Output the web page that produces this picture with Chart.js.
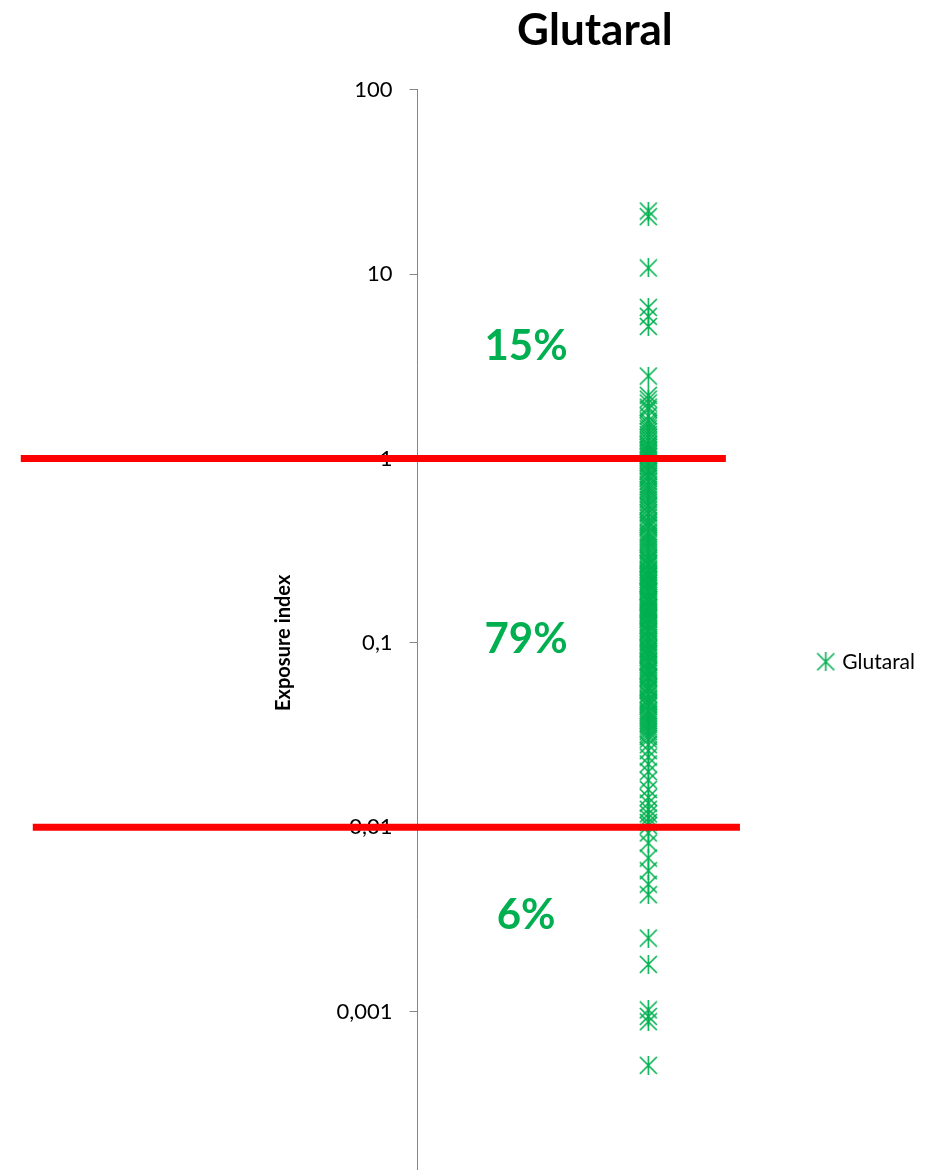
<!DOCTYPE html>
<html>
<head>
<meta charset="utf-8">
<script src="https://cdn.jsdelivr.net/npm/chart.js@4"></script>
<style>
  html, body { margin: 0; padding: 0; background: #fff; overflow: hidden; }
  #wrap { width: 945px; height: 1226px; }
</style>
</head>
<body>
<div id="wrap"><canvas id="chart" width="945" height="1226"></canvas></div>
<script>
// exposure index per measurement (single substance, one column)
const seriesName = 'Glutaral';
const aboveOne = [22, 20.5, 10.8, 6.6, 5.9, 5.2, 2.8, 2.2, 2.1, 2.0, 1.9, 1.85, 1.7, 1.6, 1.55,
  1.5, 1.45, 1.4, 1.35, 1.3, 1.25, 1.2, 1.18, 1.15, 1.12, 1.1, 1.08, 1.05, 1.03, 1.01];
const between = [0.98, 0.95, 0.93, 0.9, 0.87, 0.85, 0.82, 0.8, 0.78, 0.75,
  0.72, 0.7, 0.68, 0.66, 0.64, 0.62, 0.6, 0.58, 0.56, 0.55,
  0.53, 0.51, 0.5, 0.48, 0.46, 0.45, 0.44, 0.43, 0.42, 0.4,
  0.39, 0.38, 0.37, 0.36, 0.35, 0.34, 0.33, 0.32, 0.31, 0.3,
  0.29, 0.285, 0.28, 0.27, 0.27, 0.265, 0.26, 0.25, 0.245, 0.24,
  0.235, 0.23, 0.23, 0.225, 0.22, 0.215, 0.21, 0.21, 0.205, 0.2,
  0.196, 0.19, 0.19, 0.186, 0.18, 0.176, 0.172, 0.17, 0.168, 0.165,
  0.16, 0.157, 0.155, 0.153, 0.15, 0.147, 0.145, 0.143, 0.14, 0.137,
  0.135, 0.134, 0.13, 0.127, 0.125, 0.124, 0.12, 0.117, 0.115, 0.114,
  0.11, 0.107, 0.105, 0.102, 0.1, 0.098, 0.095, 0.093, 0.092, 0.09,
  0.088, 0.087, 0.085, 0.083, 0.08, 0.079, 0.078, 0.076, 0.074, 0.072,
  0.071, 0.07, 0.068, 0.066, 0.065, 0.064, 0.062, 0.06, 0.058, 0.057,
  0.056, 0.055, 0.053, 0.052, 0.05, 0.049, 0.048, 0.047, 0.046, 0.045,
  0.043, 0.042, 0.041, 0.04, 0.039, 0.038, 0.037, 0.036, 0.035, 0.034,
  0.033, 0.032, 0.031, 0.03, 0.028, 0.026, 0.024, 0.022, 0.02, 0.018,
  0.016, 0.0145, 0.0135, 0.0125, 0.0118, 0.0112, 0.0106, 0.0102];
const belowHundredth = [0.0093, 0.0082, 0.0068, 0.0058, 0.0049, 0.0043, 0.0025, 0.0018,
  0.00102, 0.00094, 0.00088, 0.00051];

// limit lines and share of measurements in each band
const limits = [1, 0.01];
const bandLabels = ['15%', '79%', '6%'];

const tickValues = [100, 10, 1, 0.1, 0.01, 0.001];
const tickLabels = ['100', '10', '1', '0,1', '0,01', '0,001'];

const green = '#00b050';
const allValues = aboveOne.concat(between, belowHundredth);

// asterisk marker: X plus a vertical stroke
function makeStar(size, color) {
  const c = document.createElement('canvas');
  c.width = size;
  c.height = size;
  const g = c.getContext('2d');
  g.strokeStyle = color;
  g.lineWidth = 1.6;
  g.beginPath();
  g.moveTo(1, 1); g.lineTo(size - 1, size - 1);
  g.moveTo(size - 1, 1); g.lineTo(1, size - 1);
  g.moveTo(size / 2, 0); g.lineTo(size / 2, size);
  g.stroke();
  return c;
}
const star = makeStar(19, green);

// red limit lines and band percentages, placed on the chart scales
const bandPos = { x: 0.47, y: [4.05, 0.104, 0.0033] };
const limitSpan = [[-1.72, 1.336], [-1.668, 1.397]];

const limitPlugin = {
  id: 'limits',
  afterDraw(chart) {
    const { ctx, scales: { x, y } } = chart;
    ctx.save();
    ctx.fillStyle = green;
    ctx.font = 'bold 42px Lato';
    ctx.textAlign = 'center';
    ctx.textBaseline = 'middle';
    bandLabels.forEach((t, i) => {
      ctx.fillText(t, x.getPixelForValue(bandPos.x), y.getPixelForValue(bandPos.y[i]));
    });
    ctx.strokeStyle = '#ff0000';
    ctx.lineWidth = 7;
    limits.forEach((v, i) => {
      const py = y.getPixelForValue(v);
      ctx.beginPath();
      ctx.moveTo(x.getPixelForValue(limitSpan[i][0]), py);
      ctx.lineTo(x.getPixelForValue(limitSpan[i][1]), py);
      ctx.stroke();
    });
    ctx.restore();
  }
};

Chart.defaults.font.family = 'Lato';
Chart.defaults.color = '#000';

new Chart(document.getElementById('chart'), {
  type: 'scatter',
  data: {
    datasets: [{
      label: seriesName,
      data: allValues.map(v => ({ x: 1, y: v })),
      pointStyle: star,
      borderColor: green,
      backgroundColor: green,
      pointRadius: 9
    }]
  },
  options: {
    responsive: false,
    animation: false,
    layout: { padding: { left: 272, right: 20, top: 0, bottom: 4 } },
    scales: {
      x: { type: 'linear', min: 0, max: 1.537, display: false },
      y: {
        type: 'logarithmic',
        min: 0.0001,
        max: 100,
        afterBuildTicks: scale => { scale.ticks = tickValues.map(v => ({ value: v })); },
        ticks: {
          font: { size: 22 },
          padding: 17,
          callback: v => tickLabels[tickValues.indexOf(v)]
        },
        grid: { drawOnChartArea: false, tickLength: 8, color: '#868686' },
        border: { display: true, color: '#868686', width: 1 },
        title: {
          display: true,
          text: 'Exposure index',
          font: { size: 20, weight: 'bold' },
          padding: { top: 0, bottom: 23.6 }
        }
      }
    },
    plugins: {
      title: {
        display: true,
        text: 'Glutaral',
        fullSize: false,
        font: { size: 44, weight: 'bold' },
        padding: { top: 4, bottom: 33 }
      },
      legend: {
        position: 'right',
        fullSize: false,
        title: { display: true, text: ' ', padding: { top: 0, bottom: 23.6 } },
        labels: { usePointStyle: true, boxWidth: 12, font: { size: 21 }, padding: 47.5 }
      },
      tooltip: { enabled: false }
    }
  },
  plugins: [limitPlugin]
});
</script>
</body>
</html>
